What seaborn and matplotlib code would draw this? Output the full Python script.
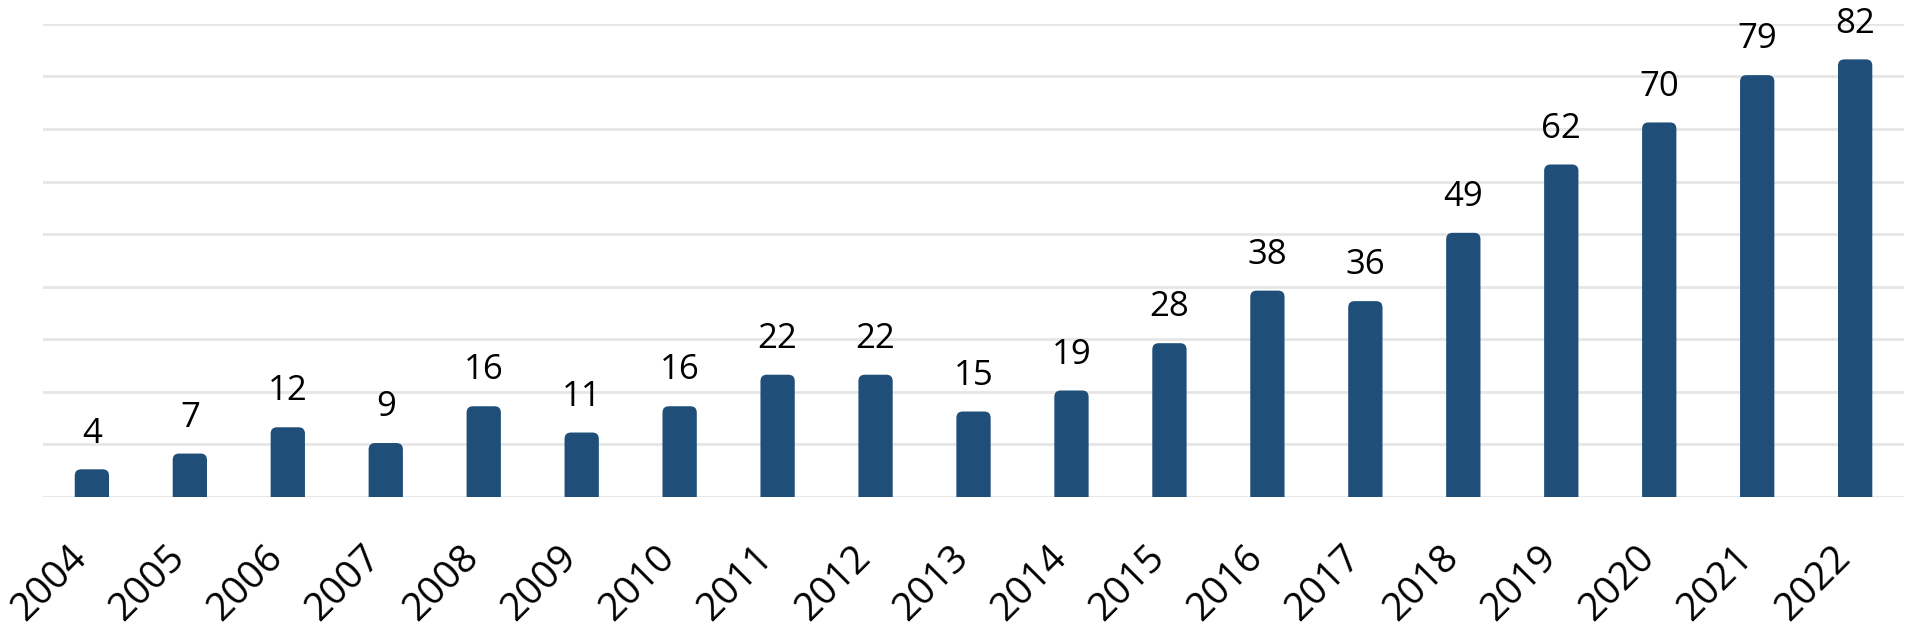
import matplotlib
matplotlib.use("Agg")
import matplotlib.pyplot as plt
from matplotlib.patches import FancyBboxPatch
from matplotlib.transforms import ScaledTranslation
import numpy as np
import seaborn as sns
import pandas as pd

# Publications per year
years = [str(y) for y in range(2004, 2023)]
counts = [4, 7, 12, 9, 16, 11, 16, 22, 22, 15, 19, 28, 38, 36, 49, 62, 70, 79, 82]

bar_color = "#1F4E79"
grid_color = "#E6E6E6"

df = pd.DataFrame({"Year": years, "Count": counts})

sns.set_theme(style="white")
plt.rcParams["font.family"] = ["Open Sans", "DejaVu Sans"]

fig = plt.figure(figsize=(19.07, 6.29), dpi=100)
ax = fig.add_axes([0.0225, 0.21, 0.976, 0.752])

sns.barplot(data=df, x="Year", y="Count", color=bar_color, width=0.35,
            saturation=1, ax=ax, zorder=3)

# the source chart's baseline sits a little below zero
y0 = -1.25
ax.set_ylim(y0, y0 + 90)
ax.set_xlim(-0.5, len(years) - 0.5)
ax.set_yticks(np.arange(y0, y0 + 91, 10))
ax.yaxis.grid(True, color=grid_color, linewidth=2, zorder=0)
ax.set_axisbelow(True)
ax.tick_params(axis="y", left=False, labelleft=False)
ax.tick_params(axis="x", bottom=False, pad=24)
for s in ax.spines.values():
    s.set_visible(False)
ax.set_xlabel("")
ax.set_ylabel("")

# rounded tops: swap each bar for a rounded box, bottom hidden below axis
aspect = (0.976 * 1907 / len(years)) / (0.752 * 629 / 90)
for p in list(ax.patches):
    x, w, h = p.get_x(), p.get_width(), p.get_height()
    rb = FancyBboxPatch((x, -5), w, h + 5,
                        boxstyle="round,pad=0,rounding_size=0.065",
                        mutation_aspect=aspect, facecolor=bar_color,
                        edgecolor="none", zorder=3)
    ax.add_patch(rb)
    p.set_visible(False)

for i, v in enumerate(counts):
    ax.text(i, v + 5.1, str(v), ha="center", va="baseline", fontsize=25,
            color="black")

shift = ScaledTranslation(-24 / 100, 0, fig.dpi_scale_trans)
for lab in ax.get_xticklabels():
    lab.set_rotation(45)
    lab.set_ha("right")
    lab.set_rotation_mode("anchor")
    lab.set_fontsize(28)
    lab.set_color("black")
    lab.set_transform(lab.get_transform() + shift)

fig.savefig("out.png", dpi=100)
